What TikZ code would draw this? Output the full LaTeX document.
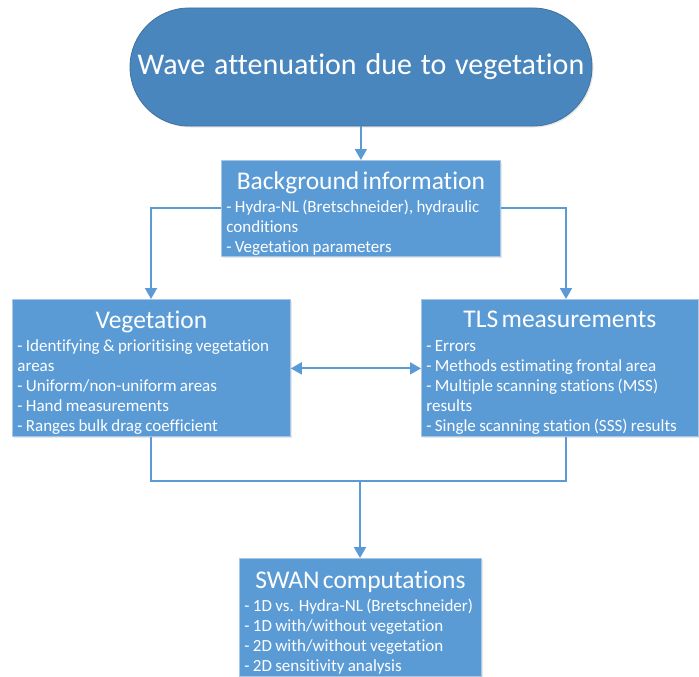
\documentclass[tikz,border=0pt]{standalone}
\usepackage{fontspec}
\setmainfont[Ligatures=NoCommon, WordSpace=1.3]{Carlito}
\usetikzlibrary{arrows.meta,shapes.misc,shadows,calc}
\definecolor{boxblue}{HTML}{5B9BD5}
\definecolor{boxedge}{HTML}{A9C6E6}
\definecolor{topblue}{HTML}{4A86BE}
\definecolor{topedge}{HTML}{41719C}
\begin{document}
\begin{tikzpicture}[x=1pt,y=-1pt,
  box/.style={draw=boxedge, line width=0.8pt, fill=boxblue, text=white, anchor=north west,
    inner xsep=5pt, inner ysep=1pt,
    drop shadow={opacity=0.18, shadow xshift=1.5pt, shadow yshift=-1.5pt}},
  conn/.style={draw=boxblue, line width=1.9pt},
  arr/.style={conn, -{Triangle[width=12pt,length=11pt]}},
  darr/.style={conn, {Triangle[width=12pt,length=11pt]}-{Triangle[width=12pt,length=11pt]}}]
\useasboundingbox (0,0) rectangle (699,677);
\newcommand{\bt}[1]{{\centering\fontsize{25.5}{30}\selectfont #1\par}\vspace{3.5pt}}
\newcommand{\bd}{\fontsize{17}{20}\selectfont\raggedright}
\newcommand{\be}{\par\vspace{-10pt}}
\node[rounded rectangle, draw=topedge, line width=0.8pt, fill=topblue, text=white,
  minimum width=462pt, minimum height=118pt, inner sep=0pt,
  drop shadow={opacity=0.18, shadow xshift=1.5pt, shadow yshift=-1.5pt},
  font=\fontsize{30}{36}\selectfont] (top) at (361,67) {\raisebox{-3pt}{Wave attenuation due to vegetation}};
\node[box, minimum width=279pt, minimum height=96pt, text width=269pt] (bg) at (221,160)
  {\bt{Background information}\bd - Hydra-NL (Bretschneider), hydraulic\\conditions\\- Vegetation parameters\be};
\node[box, minimum width=278pt, minimum height=137pt, text width=268pt] (veg) at (12,299)
  {\bt{Vegetation}\bd - Identifying \& prioritising vegetation\\areas\\- Uniform/non-uniform areas\\- Hand measurements\\- Ranges bulk drag coefficient\be};
\node[box, minimum width=277pt, minimum height=137pt, text width=267pt] (tls) at (421,299)
  {\bt{TLS measurements}\bd - Errors\\- Methods estimating frontal area\\- Multiple scanning stations (MSS)\\results\\- Single scanning station (SSS) results\be};
\node[box, minimum width=242pt, minimum height=118pt, text width=232pt] (swan) at (239,558)
  {\bt{SWAN computations}\bd - 1D vs. Hydra-NL (Bretschneider)\\- 1D with/without vegetation\\- 2D with/without vegetation\\- 2D sensitivity analysis\be};
\coordinate (lx) at (151,0);
\coordinate (rx) at (566,0);
\coordinate (j) at (360,481);
\draw[arr] (top.south -| bg.north) -- (bg.north);
\draw[arr] (bg.west) -| (veg.north -| lx);
\draw[arr] (bg.east) -| (tls.north -| rx);
\draw[darr] ($(veg.east)+(0,0.5)$) -- ($(tls.west)+(0,0.5)$);
\draw[conn] (veg.south -| lx) |- (j) -| (tls.south -| rx);
\draw[arr] (j) -- (swan.north -| j);
\end{tikzpicture}
\end{document}
